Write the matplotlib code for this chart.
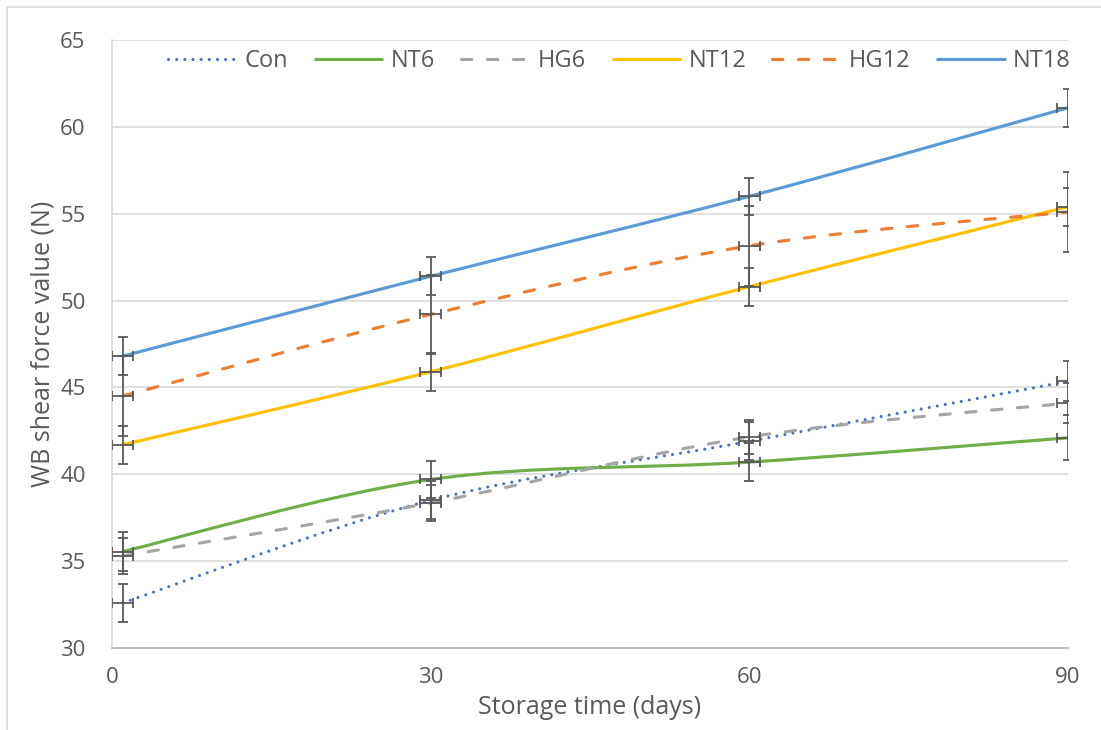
import numpy as np
import matplotlib
matplotlib.use("Agg")
from matplotlib import pyplot as plt
from matplotlib.path import Path
from matplotlib.patches import PathPatch, Rectangle
from matplotlib.lines import Line2D

plt.rcParams['font.family'] = ['Open Sans', 'DejaVu Sans']

days = [1, 30, 60, 90]
day_err = [1, 1, 1, 1]

series_names = ["Con", "NT6", "HG6", "NT12", "HG12", "NT18"]
con = [32.6, 38.5, 41.9, 45.35]
nt6 = [35.55, 39.7, 40.7, 42.1]
hg6 = [35.3, 38.35, 42.15, 44.1]
nt12 = [41.7, 45.9, 50.8, 55.4]
hg12 = [44.5, 49.2, 53.15, 55.1]
nt18 = [46.8, 51.4, 56.0, 61.1]

con_err = [1.08, 1.1, 1.1, 1.15]
nt6_err = [1.1, 1.05, 1.1, 1.3]
hg6_err = [1.05, 1.05, 1.0, 1.15]
nt12_err = [1.1, 1.1, 1.1, 1.1]
hg12_err = [2.3, 2.3, 2.3, 2.3]
nt18_err = [1.1, 1.1, 1.05, 1.1]

values = [con, nt6, hg6, nt12, hg12, nt18]
errors = [con_err, nt6_err, hg6_err, nt12_err, hg12_err, nt18_err]

colors = ["#4472C4", "#70AD47", "#A5A5A5", "#FFC000", "#ED7D31", "#5B9BD5"]
dotted = (0, (0.01, 2.6))
dashed = (0, (3.3, 5.0))
styles = [dotted, "solid", dashed, "solid", dashed, "solid"]

text_color = "#595959"
lw = 2.25


def smooth_path(x, y):
    # Excel-like smoothed line: Catmull-Rom converted to cubic Bezier segments
    pts = np.column_stack([x, y]).astype(float)
    n = len(pts)
    verts = [pts[0]]
    codes = [Path.MOVETO]
    for i in range(n - 1):
        p0 = pts[max(i - 1, 0)]
        p1 = pts[i]
        p2 = pts[i + 1]
        p3 = pts[min(i + 2, n - 1)]
        verts += [p1 + (p2 - p0) / 6, p2 - (p3 - p1) / 6, p2]
        codes += [Path.CURVE4] * 3
    return Path(verts, codes)


fig = plt.figure(figsize=(11.01, 7.30), dpi=100)
ax = fig.add_axes([112 / 1101, 1 - 648 / 730, (1068 - 112) / 1101, (648 - 40) / 730])

# outer chart border
fig.patches.append(Rectangle((7 / 1101, -0.05), 1.2, 1 - 7 / 730 + 0.05,
                             transform=fig.transFigure, fill=False,
                             edgecolor="#D9D9D9", linewidth=1.2))

handles = []
for name, vals, col, ls in zip(series_names, values, colors, styles):
    patch = PathPatch(smooth_path(days, vals), fill=False, edgecolor=col,
                      linewidth=lw, linestyle=ls, capstyle="round", zorder=3)
    ax.add_patch(patch)
    handles.append(Line2D([], [], color=col, linewidth=lw, linestyle=ls,
                          solid_capstyle="butt", dash_capstyle="round", label=name))

for vals, err in zip(values, errors):
    ax.errorbar(days, vals, yerr=err, xerr=day_err, fmt="none",
                ecolor="#595959", elinewidth=1.3, capsize=3.8, capthick=1.3,
                zorder=4)

ax.set_xlim(0, 90)
ax.set_ylim(30, 65)
ax.set_xticks([0, 30, 60, 90])
ax.set_yticks(np.arange(30, 66, 5))
ax.yaxis.grid(True, color="#D9D9D9", linewidth=1.2)
ax.set_axisbelow(True)

for side in ["top", "right"]:
    ax.spines[side].set_visible(False)
ax.spines["left"].set_color("#D9D9D9")
ax.spines["left"].set_linewidth(1.2)
ax.spines["bottom"].set_color("#BFBFBF")
ax.spines["bottom"].set_linewidth(1.4)

ax.tick_params(axis="both", length=0, labelsize=16, colors=text_color)
ax.tick_params(axis="x", pad=14)
ax.tick_params(axis="y", pad=19)

ax.set_xlabel("Storage time (days)", fontsize=18, color=text_color, labelpad=5)
ax.set_ylabel("WB shear force value (N)", fontsize=18, color=text_color, labelpad=3)

ax.legend(handles=handles, loc="center right",
          bbox_to_anchor=(1071 / 1101, 1 - 61 / 730), bbox_transform=fig.transFigure,
          ncol=6, frameon=False, fontsize=17, labelcolor=text_color,
          borderpad=0, borderaxespad=0,
          handlelength=2.95, handletextpad=0.3, columnspacing=1.1)

fig.savefig("out.png", dpi=100)
